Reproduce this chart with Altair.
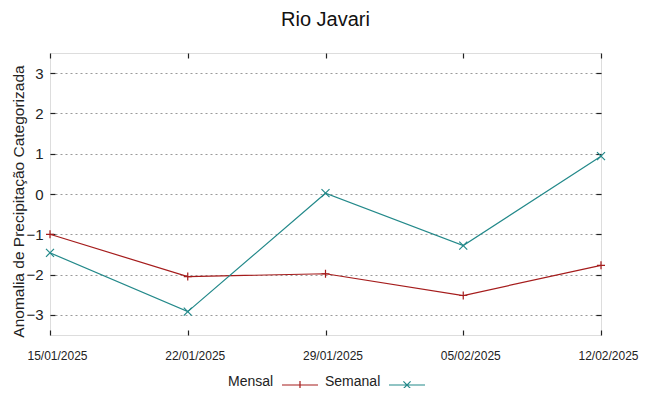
import altair as alt
import pandas as pd

dates = ["2025-01-15", "2025-01-22", "2025-01-29", "2025-02-05", "2025-02-12"]
mensal = [-1.0, -2.05, -1.98, -2.52, -1.77]
semanal = [-1.46, -2.92, 0.02, -1.28, 0.94]
series = ["Mensal", "Semanal"]
colors = ["#a51c1c", "#23898a"]
y_ticks = [-3, -2, -1, 0, 1, 2, 3]

rows = []
for d, m, s in zip(dates, mensal, semanal):
    rows.append({"date": d, "serie": "Mensal", "rotulo": "Mensal", "valor": m})
    rows.append({"date": d, "serie": "Semanal", "rotulo": "Semanal", "valor": s})
df = pd.DataFrame(rows)

def dt(s):
    y, mo, da = [int(p) for p in s.split("-")]
    return alt.DateTime(year=y, month=mo, date=da, utc=True)

tick_vals = [dt(d) for d in dates]
xscale = alt.Scale(type="utc", domain=[dt(dates[0]), dt(dates[-1])], nice=False)
yscale = alt.Scale(domain=[-3.5, 3.5], nice=False, zero=False)

PLUS = "M-1,0L1,0M0,-1L0,1"
CROSS = "M-1,-1L1,1M-1,1L1,-1"
LEG_PLUS = "M-1,0L1,0M0,-0.22L0,0.22"
LEG_CROSS = "M-1,0L1,0M-0.2,-0.2L0.2,0.2M-0.2,0.2L0.2,-0.2"
markers = [PLUS, CROSS]

x_main = alt.X(
    "date:T",
    scale=xscale,
    axis=alt.Axis(
        title=None,
        values=tick_vals,
        labelExpr="utcFormat(datum.value, '%d/%m/%Y')",
        labelFlush=False,
        labelOverlap=False,
        labelFont="Liberation Sans",
        labelFontSize=12,
        labelColor="#222222",
        labelOffset=7,
        labelPadding=15,
        offset=-5,
        tickSize=5,
        tickColor="#222222",
        tickWidth=1.2,
        domain=False,
        grid=False,
    ),
)

y_main = alt.Y(
    "valor:Q",
    scale=yscale,
    axis=alt.Axis(
        title="Anomalia de Precipitação Categorizada",
        values=y_ticks,
        labelFont="Liberation Sans",
        labelFontSize=15,
        labelColor="#222222",
        labelPadding=7,
        offset=-5,
        tickSize=5,
        tickColor="#222222",
        tickWidth=1.2,
        domain=False,
        grid=True,
        gridColor="#9a9a9a",
        gridDash=[2, 3],
        gridWidth=1,
        titleFont="Liberation Sans",
        titleFontSize=15.5,
        titleFontWeight="normal",
        titleColor="#222222",
        titleAngle=-90,
        titleBaseline="middle",
        titleAlign="center",
        titleX=-37,
        titleY=148,
    ),
)

x_plain = alt.X("date:T", scale=xscale)
y_plain = alt.Y("valor:Q", scale=yscale)

layers = []
for i, (name, col, mk) in enumerate(zip(series, colors, markers)):
    base = alt.Chart(df).transform_filter(alt.datum.serie == name)
    if i == 0:
        layers.append(base.mark_line(color=col, strokeWidth=1.2).encode(x=x_main, y=y_main))
    else:
        layers.append(base.mark_line(color=col, strokeWidth=1.2).encode(x=x_plain, y=y_plain))
    layers.append(
        base.mark_point(shape=mk, color=col, filled=False, strokeWidth=1.2, size=64, opacity=1)
        .encode(x=x_plain, y=y_plain)
    )


def key_legend(name, path, lx):
    return alt.Legend(
        title=name,
        titleOrient="left",
        titleFont="Liberation Sans",
        titleFontSize=14,
        titleFontWeight="normal",
        titleColor="#222222",
        titleBaseline="line-top",
        titleLineHeight=6,
        titlePadding=7,
        values=[name],
        orient="none",
        direction="horizontal",
        legendX=lx,
        legendY=313,
        symbolType=path,
        symbolSize=1296,
        symbolStrokeWidth=1.2,
        symbolOpacity=1,
        symbolFillColor="transparent",
        labelExpr="''",
        labelOffset=0,
    )


leg_a = alt.Chart(df).mark_point(filled=False, opacity=0).encode(
    x=x_plain,
    y=y_plain,
    color=alt.Color("serie:N", scale=alt.Scale(domain=series, range=colors),
                    legend=key_legend(series[0], LEG_PLUS, 178)),
)
leg_b = alt.Chart(df).mark_point(filled=False, opacity=0).encode(
    x=x_plain,
    y=y_plain,
    stroke=alt.Stroke("rotulo:N", scale=alt.Scale(domain=series[::-1], range=colors[::-1]),
                      legend=key_legend(series[1], LEG_CROSS, 275)),
)
layers.append(leg_a)
layers.append(leg_b)

main = alt.layer(*layers)

mirror = alt.Chart(df).mark_line(opacity=0).encode(
    x=alt.X(
        "date:T",
        scale=xscale,
        axis=alt.Axis(orient="top", values=tick_vals, labels=False, title=None, offset=-5,
                      tickSize=5, tickColor="#222222", tickWidth=1.2, domain=False, grid=False),
    ),
    y=alt.Y(
        "valor:Q",
        scale=yscale,
        axis=alt.Axis(orient="right", values=y_ticks, labels=False, title=None, offset=-5,
                      tickSize=5, tickColor="#222222", tickWidth=1.2, domain=False, grid=False),
    ),
    detail="serie:N",
)

chart = (
    alt.layer(main, mirror)
    .resolve_scale(x="independent", y="independent")
    .properties(
        width=551,
        height=282,
        padding={"left": 42, "top": 45, "right": 40, "bottom": 53},
        autosize=alt.AutoSizeParams(type="none"),
        title=alt.TitleParams(
            "Rio Javari",
            font="Liberation Sans",
            fontSize=20,
            fontWeight="normal",
            color="#111111",
            anchor="middle",
            frame="group",
            baseline="alphabetic",
            offset=6,
        ),
    )
    .configure_view(stroke="#555555", strokeWidth=1.6)
    .configure(background="white")
)

chart.save("out.html", embed_options={"renderer": "svg", "actions": False})
